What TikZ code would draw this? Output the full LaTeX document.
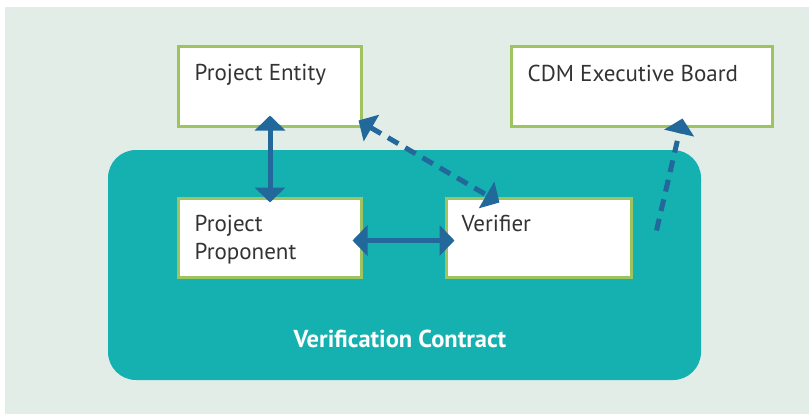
\documentclass[tikz,border=0pt]{standalone}
\usepackage{fontspec}
\setmainfont{PT Sans}
\usepackage{xcolor}
\usetikzlibrary{arrows.meta, positioning, calc}
\definecolor{panelbg}{HTML}{E2EDE8}
\definecolor{contractfill}{HTML}{14B1B0}
\definecolor{boxline}{HTML}{9DC45F}
\definecolor{linkblue}{HTML}{23689B}
\definecolor{textgrey}{HTML}{333333}

\begin{document}
\begin{tikzpicture}[x=1pt, y=-1pt, every node/.style={font=\fontsize{23}{28}\selectfont, text=textgrey},
    partybox/.style={draw=boxline, line width=3pt, fill=white, minimum width=183pt, minimum height=79pt, inner sep=0pt},
    boxlabel/.style={anchor=north west, align=left, inner sep=0pt},
    link/.style={linkblue, line width=5pt, {Triangle[width=30pt,length=15pt]}-{Triangle[width=30pt,length=15pt]}},
    dashlink/.style={link, dash pattern=on 12pt off 8pt}]
    \useasboundingbox (0,0) rectangle (810,417);
    % Background panel and contract area
    \fill[panelbg] (5,7) rectangle (809,414);
    \node[fill=contractfill, rounded corners=28pt, minimum width=593pt, minimum height=230pt, inner sep=0pt] (contract) at (404.5,265) {};
    \node[font=\fontsize{24.5}{28}\selectfont\bfseries, text=white, anchor=base, inner sep=0pt] (contractlbl) at (400,347) {Verification Contract};
    % Parties
    \node[partybox] (entity) at (269.5,86.5) {};
    \node[partybox, minimum width=261pt] (board) at (641.5,86.5) {};
    \node[partybox] (proponent) at (269.5,237.5) {};
    \node[partybox, minimum width=185pt] (verifier) at (538.5,237.5) {};
    \node[boxlabel] (entitylbl) at ($(entity.north west)+(18,19)$) {Project Entity};
    \node[boxlabel] (boardlbl) at ($(board.north west)+(18,19)$) {CDM Executive Board};
    \node[boxlabel] (proponentlbl) at ($(proponent.north west)+(18,19)$) {Project\\Proponent};
    \node[boxlabel] (verifierlbl) at ($(verifier.north west)+(17,19)$) {Verifier};
    % Relations
    \coordinate (reportstart) at ($(verifier.east)+(24,-7)$);
    \draw[link] ($(entity.south)+(0.5,-12)$) -- ($(proponent.north)+(0.5,6)$);
    \draw[link] ($(proponent.east)+(-10,3)$) -- ($(verifier.west)+(10,3)$);
    \draw[dashlink] ($(entity.south east)+(-4,-7)$) -- ($(verifier.north west)+(55,6)$);
    \draw[dashlink, {}-{Triangle[width=30pt,length=15pt]}] (reportstart) -- ($(board.south)+(41,-9)$);
\end{tikzpicture}
\end{document}
